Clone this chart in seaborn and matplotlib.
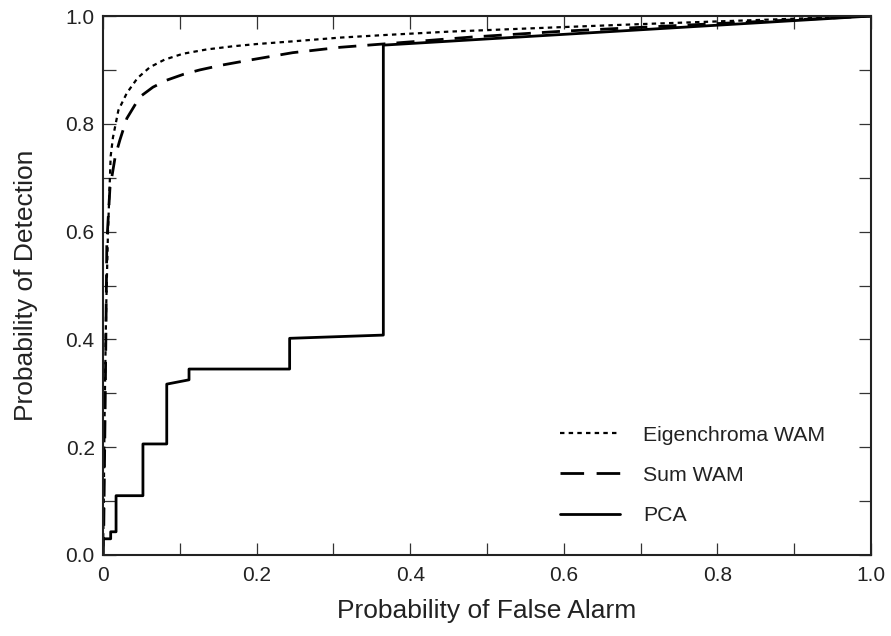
import matplotlib
matplotlib.use("Agg")
import matplotlib.pyplot as plt
from matplotlib.ticker import MultipleLocator, FixedLocator
import seaborn as sns
import pandas as pd

eig_fpr = [0, 0.001, 0.002, 0.004, 0.0065, 0.01, 0.013, 0.02, 0.031, 0.045, 0.061, 0.08,
           0.104, 0.135, 0.17, 0.2, 0.247, 0.309, 0.37, 0.45, 0.59, 0.7, 0.8, 0.9, 1.0]
eig_tpr = [0, 0.1, 0.25, 0.45, 0.6, 0.74, 0.775, 0.825, 0.857, 0.885, 0.905, 0.919,
           0.93, 0.938, 0.944, 0.948, 0.953, 0.96, 0.965, 0.971, 0.979, 0.985, 0.99, 0.995, 1.0]

sum_fpr = [0, 0.001, 0.003, 0.005, 0.009, 0.016, 0.022, 0.031, 0.048, 0.065, 0.083, 0.105,
           0.126, 0.155, 0.19, 0.247, 0.309, 0.4, 0.48, 0.6, 0.7, 0.8, 0.9, 1.0]
sum_tpr = [0, 0.05, 0.3, 0.58, 0.68, 0.74, 0.77, 0.81, 0.85, 0.868, 0.881, 0.892,
           0.9, 0.909, 0.918, 0.932, 0.942, 0.952, 0.961, 0.972, 0.979, 0.986, 0.993, 1.0]

pca_fpr = [0, 0.0, 0.01, 0.01, 0.017, 0.017, 0.052, 0.052, 0.083, 0.083, 0.112,
           0.112, 0.243, 0.243, 0.365, 0.365, 1.0]
pca_tpr = [0, 0.03, 0.03, 0.043, 0.043, 0.11, 0.11, 0.206, 0.206, 0.317, 0.325,
           0.345, 0.345, 0.402, 0.408, 0.946, 1.0]

labels = ["Eigenchroma WAM", "Sum WAM", "PCA"]
xtick_labels = ["0", "0.2", "0.4", "0.6", "0.8", "1.0"]
ytick_labels = ["0.0", "0.2", "0.4", "0.6", "0.8", "1.0"]

sns.set_style("ticks")
plt.rcParams['font.family'] = ['Liberation Sans', 'DejaVu Sans']

fig = plt.figure(figsize=(8.91, 6.36), dpi=100)
ax = fig.add_axes([0.1156, 0.1274, 0.862, 0.8474])

df_e = pd.DataFrame({"x": eig_fpr, "y": eig_tpr})
df_s = pd.DataFrame({"x": sum_fpr, "y": sum_tpr})
df_p = pd.DataFrame({"x": pca_fpr, "y": pca_tpr})

sns.lineplot(data=df_e, x="x", y="y", ax=ax, sort=False, color="black", lw=1.6,
             label=labels[0], estimator=None)
sns.lineplot(data=df_s, x="x", y="y", ax=ax, sort=False, color="black", lw=2.0,
             label=labels[1], estimator=None)
sns.lineplot(data=df_p, x="x", y="y", ax=ax, sort=False, color="black", lw=2.0,
             label=labels[2], estimator=None)
ax.lines[0].set_dashes((2.0, 1.9))
ax.lines[1].set_dashes((6.5, 4))

ax.set_xlim(0, 1)
ax.set_ylim(0, 1)
ax.xaxis.set_major_locator(FixedLocator([0, 0.2, 0.4, 0.6, 0.8, 1.0]))
ax.yaxis.set_major_locator(FixedLocator([0, 0.2, 0.4, 0.6, 0.8, 1.0]))
ax.xaxis.set_minor_locator(MultipleLocator(0.1))
ax.yaxis.set_minor_locator(MultipleLocator(0.1))
ax.set_xticklabels(xtick_labels)
ax.set_yticklabels(ytick_labels)
ax.tick_params(which="both", direction="in", top=True, right=True, length=9,
               width=0.9, color="#333333", labelsize=15, labelcolor="#222222")
ax.tick_params(axis="x", which="major", pad=8)
ax.tick_params(axis="y", which="major", pad=6)
for s in ax.spines.values():
    s.set_linewidth(1.5)
    s.set_color("#222222")

ax.set_xlabel("Probability of False Alarm", fontsize=19, labelpad=10, color="#222222")
ax.set_ylabel("Probability of Detection", fontsize=19, labelpad=20, color="#222222")

leg = ax.legend(loc="lower right", bbox_to_anchor=(0.965, 0.02), frameon=False,
                fontsize=15.3, handlelength=2.8, handletextpad=1.08, labelspacing=1.0)
for t in leg.get_texts():
    t.set_color("#222222")
leg.get_lines()[1].set_dashes((8.5, 4.5))

fig.savefig("out.png", dpi=100)
